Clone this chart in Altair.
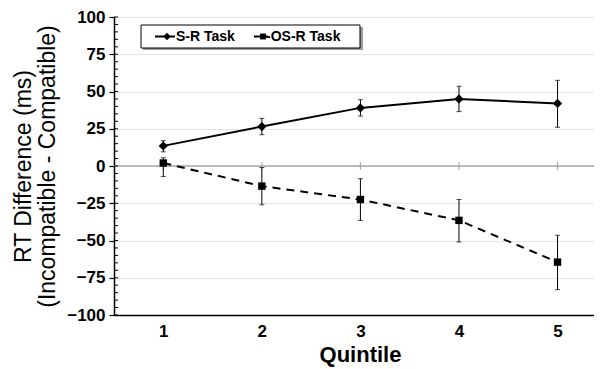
import altair as alt
import pandas as pd

quintile = [1, 2, 3, 4, 5]
sr_mean = [13.5, 26.5, 39.0, 45.0, 42.0]
sr_lo = [9.5, 21.0, 33.5, 36.5, 26.0]
sr_hi = [17.0, 32.0, 44.5, 53.5, 57.5]
osr_mean = [2.0, -13.5, -22.5, -36.5, -64.5]
osr_lo = [-7.0, -26.0, -36.5, -51.0, -83.0]
osr_hi = [5.5, -1.0, -8.5, -22.5, -46.5]
y_ticks = [-100, -75, -50, -25, 0, 25, 50, 75, 100]
minor_ticks = list(range(-100, 101, 5))
legend_labels = ["S-R Task", "OS-R Task"]

FONT = "Liberation Sans"

sr = pd.DataFrame({"q": quintile, "m": sr_mean, "lo": sr_lo, "hi": sr_hi, "task": "S-R Task"})
osr = pd.DataFrame({"q": quintile, "m": osr_mean, "lo": osr_lo, "hi": osr_hi, "task": "OS-R Task"})
df = pd.concat([sr, osr], ignore_index=True)

xscale = alt.Scale(domain=[0.5, 5.37], nice=False, zero=False)
yscale = alt.Scale(domain=[-100, 100], nice=False, zero=False)

XAXIS = alt.Axis(
    values=quintile, format="d", ticks=False, grid=False,
    labelFont=FONT, labelFontSize=17, labelFontWeight="bold", labelColor="black",
    labelPadding=8, domainColor="black", domainWidth=1.5,
    title="Quintile", titleFont=FONT, titleFontSize=22, titleFontWeight="bold",
    titleColor="black", titleX=246, titleY=39, titleBaseline="middle")
YAXIS = alt.Axis(
    values=y_ticks, format="d", tickSize=5, tickColor="black", tickWidth=1.2,
    grid=True, gridColor="#e4e4e4", gridWidth=1,
    labelFont=FONT, labelFontSize=17, labelFontWeight="bold", labelColor="black",
    labelPadding=4, domainColor="black", domainWidth=1.5,
    title=["RT Difference (ms)", "(Incompatible - Compatible)"],
    titleFont=FONT, titleFontSize=23, titleFontWeight="normal", titleColor="black",
    titleAngle=270, titleX=-91, titleY=149, titleBaseline="middle",
    titleAlign="center", titleLineHeight=24)


def X(f="q"):
    return alt.X(f"{f}:Q", scale=xscale, axis=XAXIS)


def Y(f):
    return alt.Y(f"{f}:Q", scale=yscale, axis=YAXIS)


base = alt.Chart(df)

zero_line = alt.Chart(pd.DataFrame({"q": [1], "m": [0]})).mark_rule(
    color="#a8a8a8", strokeWidth=1.5).encode(y=Y("m"))

zero_ticks = alt.Chart(pd.DataFrame({"q": quintile, "lo": [-2.5] * 5, "hi": [2.5] * 5})).mark_rule(
    color="#a8a8a8", strokeWidth=1.2).encode(x=X(), y=Y("lo"), y2="hi:Q")

minor = alt.Chart(pd.DataFrame({"m": minor_ticks})).mark_rule(color="black", strokeWidth=1).encode(
    y=Y("m"), x=alt.value(0), x2=alt.value(4))

err = base.mark_rule(color="black", strokeWidth=1).encode(x=X(), y=Y("lo"), y2="hi:Q")
cap_lo = base.mark_tick(color="black", thickness=1, size=5, orient="horizontal").encode(
    x=X(), y=Y("lo"))
cap_hi = base.mark_tick(color="black", thickness=1, size=5, orient="horizontal").encode(
    x=X(), y=Y("hi"))

line_sr = alt.Chart(sr).mark_line(color="black", strokeWidth=2).encode(x=X(), y=Y("m"))
line_osr = alt.Chart(osr).mark_line(color="black", strokeWidth=2, strokeDash=[8, 6]).encode(
    x=X(), y=Y("m"))
pts_sr = alt.Chart(sr).mark_point(shape="diamond", filled=True, color="black", size=85,
                                  opacity=1).encode(x=X(), y=Y("m"))
pts_osr = alt.Chart(osr).mark_point(shape="square", filled=True, color="black", size=55,
                                    opacity=1).encode(x=X(), y=Y("m"))

one = alt.Chart(pd.DataFrame({"a": [0]}))
shadow = one.mark_rect(fill="#9a9a9a").encode(
    x=alt.value(29), x2=alt.value(249), y=alt.value(10), y2=alt.value(33))
box = one.mark_rect(fill="white", stroke="black", strokeWidth=1).encode(
    x=alt.value(27), x2=alt.value(246), y=alt.value(8), y2=alt.value(31))
leg_l1 = one.mark_rule(color="black", strokeWidth=2).encode(
    x=alt.value(41), x2=alt.value(61), y=alt.value(19.5))
leg_p1 = one.mark_point(shape="diamond", filled=True, color="black", size=55, opacity=1).encode(
    x=alt.value(53), y=alt.value(19.5))
leg_t1 = one.mark_text(text=legend_labels[0], align="left", baseline="middle", font=FONT,
                       fontSize=14, fontWeight="bold", color="black").encode(
    x=alt.value(62), y=alt.value(20))
leg_l2 = one.mark_rule(color="black", strokeWidth=2).encode(
    x=alt.value(140), x2=alt.value(154), y=alt.value(19.5))
leg_p2 = one.mark_point(shape="square", filled=True, color="black", size=35, opacity=1).encode(
    x=alt.value(149), y=alt.value(19.5))
leg_t2 = one.mark_text(text="-" + legend_labels[1], align="left", baseline="middle", font=FONT,
                       fontSize=14, fontWeight="bold", color="black").encode(
    x=alt.value(152), y=alt.value(20))

chart = alt.layer(
    zero_line, zero_ticks, minor, err, cap_lo, cap_hi,
    line_sr, line_osr, pts_sr, pts_osr,
    shadow, box, leg_l1, leg_p1, leg_t1, leg_l2, leg_p2, leg_t2
).properties(
    width=480, height=298,
    padding={"left": 106, "top": 9, "right": 0, "bottom": 54},
    autosize=alt.AutoSizeParams(type="none"),
).configure_view(stroke=None).configure(font=FONT)

chart.save("out.html", embed_options={"renderer": "svg", "actions": False})
